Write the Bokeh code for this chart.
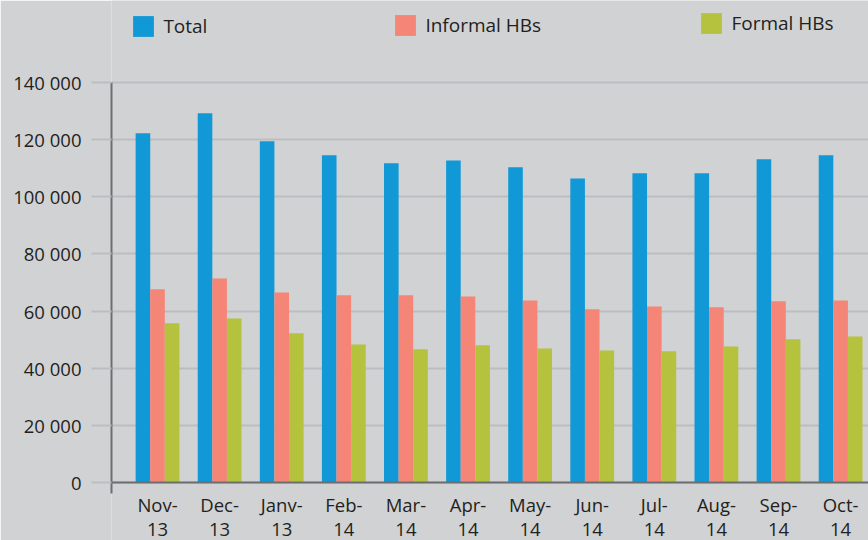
from bokeh.plotting import figure
from bokeh.models import (Range1d, FixedTicker, Span, Legend, LegendItem,
                          ColumnDataSource, LabelSet)
from bokeh.core.properties import value
from bokeh.transform import dodge
from bokeh.embed import file_html
from bokeh.resources import INLINE

# ---- data ----
month_labels = ["Nov-", "Dec-", "Janv-", "Feb-", "Mar-", "Apr-",
                "May-", "Jun-", "Jul-", "Aug-", "Sep-", "Oct-"]
year_labels = ["13", "13", "13", "14", "14", "14", "14", "14", "14", "14", "14", "14"]
total = [122200, 129200, 119400, 114500, 111700, 112700, 110300, 106400, 108200, 108200, 113100, 114500]
informal = [67600, 71400, 66500, 65500, 65500, 65100, 63700, 60600, 61600, 61300, 63400, 63700]
formal = [55700, 57400, 52200, 48300, 46600, 48000, 46900, 46200, 45900, 47600, 50100, 51100]
series_names = ["Total", "Informal HBs", "Formal HBs"]
y_ticks = [0, 20000, 40000, 60000, 80000, 100000, 120000, 140000]
y_tick_labels = ["0", "20 000", "40 000", "60 000", "80 000", "100 000", "120 000", "140 000"]

# ---- style ----
BG = "#D1D2D4"
GRID = "#BCBDC0"
AXIS = "#6D6E71"
TEXT = "#231F20"
COLORS = ["#1198D6", "#F48577", "#B5C23D"]
FONT = "Open Sans"

idx = list(range(len(month_labels)))
src = ColumnDataSource(dict(x=idx, total=total, informal=informal, formal=formal,
                            month=month_labels, year=year_labels))

p = figure(width=868, height=540, output_backend="svg", toolbar_location=None,
           x_range=Range1d(-0.741, 11.449), y_range=Range1d(-20300, 168700),
           min_border_left=111, min_border_right=0, min_border_top=0, min_border_bottom=0,
           background_fill_color=BG, border_fill_color=BG, outline_line_color=None)

bw = 0.235
renderers = []
for col, off, c in zip(["total", "informal", "formal"], [-bw, 0, bw], COLORS):
    r = p.vbar(x=dodge("x", off, range=p.x_range), top=col, bottom=0, width=bw,
               source=src, fill_color=c, line_color=None)
    renderers.append(r)

# grid
p.xgrid.visible = False
p.ygrid.ticker = FixedTicker(ticks=y_ticks)
p.ygrid.grid_line_color = GRID
p.ygrid.grid_line_width = 2

# y axis
ya = p.yaxis[0]
ya.ticker = FixedTicker(ticks=y_ticks)
ya.bounds = (-3850, 140000)
ya.major_label_overrides = {t: l for t, l in zip(y_ticks, y_tick_labels)}
ya.axis_line_color = AXIS
ya.axis_line_width = 2
ya.major_tick_out = 20
ya.major_tick_in = 0
ya.major_tick_line_color = GRID
ya.major_tick_line_width = 2
ya.minor_tick_line_color = None
ya.major_label_standoff = 10
ya.major_label_text_font = FONT
ya.major_label_text_font_size = "18.5px"
ya.major_label_text_color = TEXT

# x axis: category labels (two lines) drawn under the bars
p.xaxis.visible = False
for field, yy in [("month", 29), ("year", 5)]:
    ls = LabelSet(x="x", y=yy, y_units="screen", text=field, source=src,
                  text_align="center", text_baseline="alphabetic", text_font=value(FONT),
                  text_font_size="18.5px", text_color=TEXT)
    p.add_layout(ls)

# baseline at zero
p.add_layout(Span(location=0, dimension="width", line_color=AXIS, line_width=2))

# legends
locs = [(19.4, 501.4), (281.4, 502.4), (587.4, 504.4)]
for name, r, loc in zip(series_names, renderers, locs):
    leg = Legend(items=[LegendItem(label=name, renderers=[r])], location=loc,
                 orientation="horizontal", padding=0, margin=0, border_line_color=None,
                 background_fill_alpha=0, glyph_width=26, glyph_height=26, label_height=26,
                 label_standoff=7, label_text_font=FONT, label_text_font_size="19px",
                 label_text_color=TEXT)
    p.add_layout(leg, "center")

open("out.html", "w").write(file_html(p, INLINE))
